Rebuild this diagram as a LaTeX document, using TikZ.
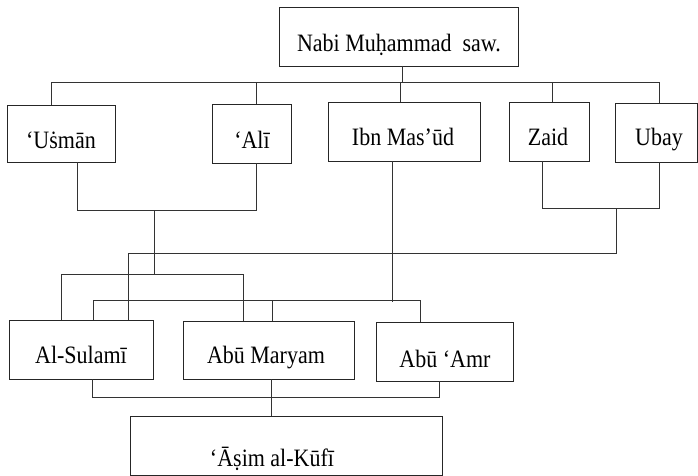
\documentclass[tikz,border=0pt]{standalone}
\usepackage{fontspec}
\setmainfont[FakeStretch=0.88]{Liberation Serif}
\begin{document}
\begin{tikzpicture}[x=1pt,y=-1pt,
  box/.style={draw=black!85, line width=0.9pt, inner sep=0pt, outer sep=0pt, anchor=north west},
  lbl/.style={font=\fontsize{25}{29}\selectfont, anchor=base, inner sep=0pt},
  ln/.style={line width=0.9pt, draw=black!80}]
\useasboundingbox (0,0) rectangle (698,476);
% boxes
\node[box, minimum width=239pt, minimum height=59pt] (nabi) at (279,7) {};
\node[box, minimum width=108pt, minimum height=57pt] (usman) at (7,105) {};
\node[box, minimum width=79pt, minimum height=59pt] (ali) at (212,104) {};
\node[box, minimum width=152pt, minimum height=59pt] (ibn) at (328,102) {};
\node[box, minimum width=80pt, minimum height=59pt] (zaid) at (509,102) {};
\node[box, minimum width=82pt, minimum height=59pt] (ubay) at (615,103) {};
\node[box, minimum width=144pt, minimum height=59pt] (sulami) at (9,320) {};
\node[box, minimum width=171pt, minimum height=58pt] (maryam) at (183,321) {};
\node[box, minimum width=137pt, minimum height=59pt] (amr) at (376,322) {};
\node[box, minimum width=312pt, minimum height=59pt] (asim) at (130,416) {};
% labels
\node[lbl] (nabiT) at (399,52) {Nabi Muḥammad\ \ saw.};
\node[lbl] (usmanT) at (61,148) {‘Uṡmān};
\node[lbl] (aliT) at (252,148) {‘Alī};
\node[lbl] (ibnT) at (403,145) {Ibn Mas’ūd};
\node[lbl] (zaidT) at (548,145) {Zaid};
\node[lbl] (ubayT) at (659,146) {Ubay};
\node[lbl] (sulamiT) at (81,363) {Al-Sulamī};
\node[lbl] (maryamT) at (266,363) {Abū Maryam};
\node[lbl] (amrT) at (445,367) {Abū ‘Amr};
\node[lbl] (asimT) at (272,466) {‘Āṣim al-Kūfī};
% junction coordinates
\coordinate (topbus) at (402,82);
\coordinate (ua) at (154,210);
\coordinate (zu) at (616,208);
\coordinate (ibnj) at (392,302);
% top level
\draw[ln] (nabi.south -| topbus) -- (topbus);
\draw[ln] (usman.north -| 51,0) |- (659,82) -- (ubay.north -| 659,0);
\draw[ln] (ali.north -| 256,0) -- (256,82);
\draw[ln] (ibn.north -| 400,0) -- (400,82);
\draw[ln] (zaid.north -| 552,0) -- (552,82);
% Usman + Ali
\draw[ln] (usman.south -| 77,0) |- (256,210) -- (ali.south -| 256,0);
\draw[ln] (ua) -- (154,274);
\draw[ln] (sulami.north -| 61,0) |- (243,274) -- (maryam.north -| 243,0);
% Zaid + Ubay
\draw[ln] (zaid.south -| 542,0) |- (659,208) -- (ubay.south -| 659,0);
\draw[ln] (zu) |- (128,253) -- (sulami.north -| 128,0);
% Ibn Mas'ud
\draw[ln] (ibn.south -| ibnj) -- (ibnj);
\draw[ln] (sulami.north -| 93,0) |- (420,300) -- (amr.north -| 420,0);
\draw[ln] (272,300) -- (maryam.north -| 272,0);
% bottom
\draw[ln] (sulami.south -| 92,0) |- (439,397) -- (amr.south -| 439,0);
\draw[ln] (maryam.south -| 271,0) -- (asim.north -| 271,0);
\end{tikzpicture}
\end{document}
